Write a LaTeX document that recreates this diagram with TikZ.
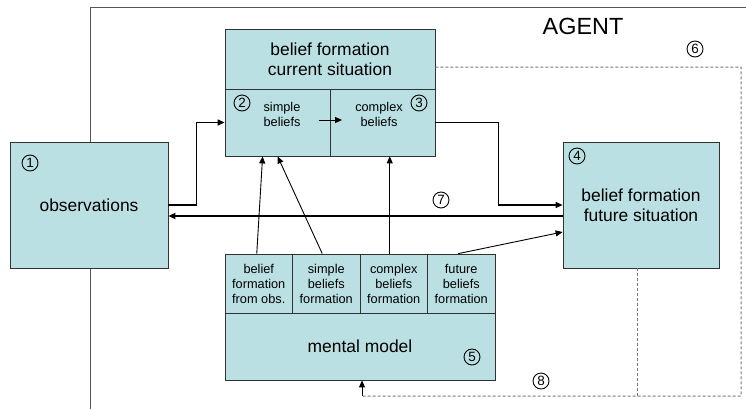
\documentclass[tikz,border=0pt]{standalone}
\usepackage{fontspec}
\setmainfont{Liberation Sans}
\usetikzlibrary{arrows.meta}
\definecolor{boxfill}{RGB}{187,224,227}
\definecolor{boxline}{RGB}{50,50,50}
\definecolor{framecol}{RGB}{85,85,85}
\definecolor{dashcol}{RGB}{120,120,120}
\begin{document}
\begin{tikzpicture}[x=1bp,y=-1bp,
  box/.style={draw=boxline, fill=boxfill, line width=0.8bp, inner sep=0pt, align=center},
  bigtext/.style={font=\fontsize{17.5}{20.5}\selectfont},
  smalltext/.style={font=\fontsize{12.8}{15}\selectfont, align=center, inner sep=0pt},
  num/.style={circle, draw=black, line width=0.9bp, minimum size=16bp, inner sep=0pt, font=\fontsize{13.5}{13.5}\selectfont},
  arr/.style={-{Triangle[length=7bp,width=6bp]}, line width=0.9bp},
  dashline/.style={draw=dashcol, line width=1bp, dash pattern=on 3bp off 2bp},
  frameline/.style={draw=framecol, line width=1bp}]
\useasboundingbox (0,0) rectangle (746,409);
% agent frame
\coordinate (fBL) at (90,409);
\coordinate (fTL) at (90,7);
\coordinate (fTR) at (746,7);
\draw[frameline] (fBL) -- (fTL) -- (fTR);
\node[font=\fontsize{23.5}{25}\selectfont] (agent) at (583,26) {AGENT};

% observations
\node[box, bigtext, minimum width=158bp, minimum height=126bp] (obs) at (89,205) {observations};
\node[num] (n1) at (30,163) {1};

% current situation
\node[box, bigtext, minimum width=210bp, minimum height=60bp] (curt) at (330,59) {belief formation\\current situation};
\node[box, minimum width=105bp, minimum height=67bp] (simple) at (277.5,122.5) {};
\node[box, minimum width=105bp, minimum height=67bp] (complex) at (382.5,122.5) {};
\node[smalltext] (stxt) at (282,114) {simple\\beliefs};
\node[smalltext] (ctxt) at (379,114) {complex\\beliefs};
\node[num] (n2) at (242,103) {2};
\node[num] (n3) at (419,103) {3};
\draw[arr, shorten <=18bp, shorten >=13bp] ([yshift=-6bp]stxt.east) -- ([yshift=-6bp]ctxt.west);

% future situation
\node[box, bigtext, minimum width=156bp, minimum height=126bp] (fut) at (641,205) {belief formation\\future situation};
\node[num] (n4) at (577,156) {4};

% mental model
\node[box, smalltext, minimum width=67.5bp, minimum height=59bp] (c1) at (258.75,283.5) {belief\\formation\\from obs.};
\node[box, smalltext, minimum width=67.5bp, minimum height=59bp] (c2) at (326.25,283.5) {simple\\beliefs\\formation};
\node[box, smalltext, minimum width=67.5bp, minimum height=59bp] (c3) at (393.75,283.5) {complex\\beliefs\\formation};
\node[box, smalltext, minimum width=67.5bp, minimum height=59bp] (c4) at (461.25,283.5) {future\\beliefs\\formation};
\node[box, bigtext, minimum width=270bp, minimum height=67bp] (mm) at (360,346.5) {mental model};
\node[num] (n5) at (472,357) {5};

% dashed feedback
\coordinate (dTR) at (741,67);
\coordinate (dBR) at (741,396);
\coordinate (dBL) at (362,396);
\draw[dashline] ([yshift=-8bp]curt.east) -- (dTR) -- (dBR) -- (dBL);
\draw[dashline] ([xshift=-4bp]fut.south) -- ([xshift=-4bp]fut.south |- dBR);
\draw[arr] (dBL) -- (dBL |- mm.south);
\node[num] (n6) at (695,49) {6};
\node[num] (n8) at (541,381) {8};

% connectors
\draw[arr, line width=1.3bp] (obs.east) -- ++(28,0) |- (simple.west);
\draw[arr, line width=1.1bp] (complex.east) -- ++(63,0) |- (fut.west);
\draw[arr, line width=1.8bp] ([yshift=-11bp]fut.west) -- ([yshift=-11bp]obs.east);
\node[num] (n7) at (441,200) {7};
\draw[arr] ([xshift=-2bp]c1.north) -- ([xshift=38bp]simple.south west);
\draw[arr] ([xshift=-4bp]c2.north) -- ([xshift=53bp]simple.south west);
\draw[arr] ([xshift=-4bp]c3.north) -- ([xshift=-4bp]c3.north |- complex.south);
\draw[arr] ([xshift=-3bp]c4.north) -- ([yshift=-27bp]fut.west);
\end{tikzpicture}
\end{document}
